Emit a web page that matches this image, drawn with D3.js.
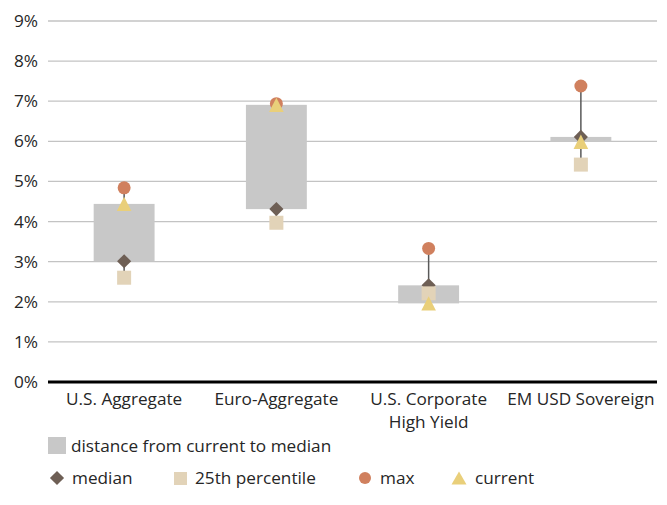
<!DOCTYPE html>
<html>
<head>
<meta charset="utf-8">
<script src="https://cdn.jsdelivr.net/npm/d3@7"></script>
<style>
  html, body { margin: 0; padding: 0; background: #fff; }
  svg { display: block; font-family: "Open Sans", "Noto Sans", sans-serif; }
</style>
</head>
<body>
<svg id="chart" width="667" height="505"></svg>
<script>
const categories = ["U.S. Aggregate", "Euro-Aggregate", "U.S. Corporate|High Yield", "EM USD Sovereign"];
const medianVals = [3.01, 4.31, 2.41, 6.11];
const p25Vals = [2.60, 3.97, 2.21, 5.42];
const maxVals = [4.84, 6.94, 3.33, 7.38];
const currentVals = [4.44, 6.91, 1.96, 5.99];
const yTicks = [0, 1, 2, 3, 4, 5, 6, 7, 8, 9];

const colors = {
  bar: "#c8c8c8",
  line: "#595959",
  median: "#6e5f55",
  p25: "#e2d3b8",
  max: "#d0805e",
  current: "#e9cf7a",
  grid: "#c3c3c3",
  text: "#262626"
};
const FS = 17.2;

const data = categories.map((c, i) => ({
  cat: c, median: medianVals[i], p25: p25Vals[i], max: maxVals[i], current: currentVals[i]
}));

const svg = d3.select("#chart");
const mLeft = 48, mRight = 657, mTop = 21, mBottom = 382;

const x = d3.scaleBand().domain(categories).range([mLeft, mRight]).paddingInner(0.6).paddingOuter(0.3);
const y = d3.scaleLinear().domain([0, 9]).range([mBottom, mTop]);
const cx = c => x(c) + x.bandwidth() / 2;

// gridlines
svg.append("g").selectAll("line").data(yTicks.filter(t => t > 0)).join("line")
  .attr("x1", mLeft).attr("x2", mRight)
  .attr("y1", d => y(d)).attr("y2", d => y(d))
  .attr("stroke", colors.grid).attr("stroke-width", 1.3);

// y axis labels
const yAxis = d3.axisLeft(y).tickValues(yTicks).tickFormat(d => d + "%").tickSize(0).tickPadding(10);
const yg = svg.append("g").attr("transform", `translate(${mLeft},0)`).call(yAxis);
yg.select(".domain").remove();
yg.selectAll("text").attr("font-size", FS).attr("fill", colors.text).attr("font-family", "Open Sans, Noto Sans, sans-serif");

// high-low lines (25th to max)
svg.append("g").selectAll("line").data(data).join("line")
  .attr("x1", d => cx(d.cat)).attr("x2", d => cx(d.cat))
  .attr("y1", d => y(d.p25)).attr("y2", d => y(d.max))
  .attr("stroke", colors.line).attr("stroke-width", 1.5);

// floating bars current <-> median
svg.append("g").selectAll("rect").data(data).join("rect")
  .attr("x", d => x(d.cat)).attr("width", x.bandwidth())
  .attr("y", d => y(Math.max(d.current, d.median)))
  .attr("height", d => Math.abs(y(d.current) - y(d.median)))
  .attr("fill", colors.bar);

// x axis line
svg.append("line").attr("x1", mLeft).attr("x2", mRight).attr("y1", mBottom).attr("y2", mBottom)
  .attr("stroke", "#000").attr("stroke-width", 3);

const sym = (type, size) => d3.symbol().type(type).size(size)();

// median diamonds
svg.append("g").selectAll("path").data(data).join("path")
  .attr("d", sym(d3.symbolSquare, 100))
  .attr("transform", d => `translate(${cx(d.cat)},${y(d.median)}) rotate(45)`)
  .attr("fill", colors.median);

// 25th percentile squares
svg.append("g").selectAll("rect").data(data).join("rect")
  .attr("x", d => cx(d.cat) - 7).attr("y", d => y(d.p25) - 7)
  .attr("width", 14).attr("height", 14)
  .attr("fill", colors.p25);

// max circles
svg.append("g").selectAll("circle").data(data).join("circle")
  .attr("cx", d => cx(d.cat)).attr("cy", d => y(d.max)).attr("r", 6.5)
  .attr("fill", colors.max);

// current triangles
const tri = "M0,-7.2L7.3,7.2L-7.3,7.2Z";
svg.append("g").selectAll("path").data(data).join("path")
  .attr("d", tri)
  .attr("transform", d => `translate(${cx(d.cat)},${y(d.current)})`)
  .attr("fill", colors.current);

// x labels
const xl = svg.append("g").selectAll("text").data(categories).join("text")
  .attr("x", d => cx(d)).attr("y", 405)
  .attr("text-anchor", "middle").attr("font-size", FS).attr("fill", colors.text);
xl.each(function(d) {
  const parts = d.split("|");
  const t = d3.select(this);
  parts.forEach((p, i) => {
    t.append("tspan").attr("x", cx(d)).attr("dy", i === 0 ? 0 : 23).text(p);
  });
});

// legend
const lg = svg.append("g").attr("font-size", FS).attr("fill", colors.text);
lg.append("rect").attr("x", 48).attr("y", 437).attr("width", 18).attr("height", 17).attr("fill", colors.bar);
lg.append("text").attr("x", 71).attr("y", 451.5).text("distance from current to median");

const ly = 478;
lg.append("path").attr("d", sym(d3.symbolSquare, 100)).attr("transform", `translate(57,${ly}) rotate(45)`).attr("fill", colors.median);
lg.append("text").attr("x", 72).attr("y", ly + 6).text("median");
lg.append("rect").attr("x", 174).attr("y", ly - 6).attr("width", 13).attr("height", 13).attr("fill", colors.p25);
lg.append("text").attr("x", 195).attr("y", ly + 6).text("25th percentile");
lg.append("circle").attr("cx", 365).attr("cy", ly).attr("r", 6).attr("fill", colors.max);
lg.append("text").attr("x", 380).attr("y", ly + 6).text("max");
lg.append("path").attr("d", "M0,-6.5L7.5,6.5L-7.5,6.5Z").attr("transform", `translate(459,${ly})`).attr("fill", colors.current);
lg.append("text").attr("x", 475).attr("y", ly + 6).text("current");
</script>
</body>
</html>
